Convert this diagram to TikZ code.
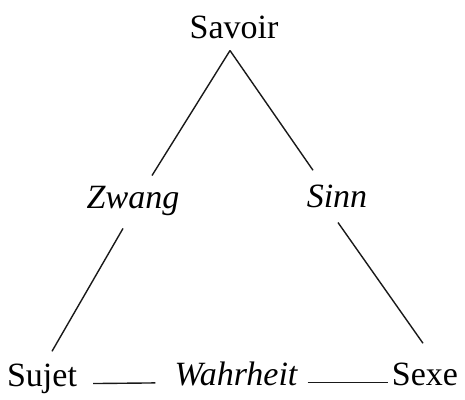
\documentclass[tikz,border=0pt]{standalone}
\usepackage{fontspec}
\setmainfont{Liberation Serif}
\usetikzlibrary{positioning,calc}

\begin{document}
\begin{tikzpicture}[
  x=1pt,y=-1pt,
  font=\fontsize{34}{40}\selectfont,
  term/.style={inner sep=0pt,anchor=base},
  role/.style={term,font=\fontsize{34}{40}\selectfont\itshape},
  edge/.style={black!90,line width=1.4pt}]
\useasboundingbox (0,0) rectangle (465,399);
% corners
\node[term] (savoir) at (234,38) {Savoir};
\node[term] (sujet) at (42,386) {Sujet};
\node[term] (sexe) at (425,385) {Sexe};
% names on the sides
\node[role] (zwang) at (133,208) {Zwang};
\node[role] (sinn) at (337,207) {Sinn};
\node[role] (wahr) at (236,385) {Wahrheit};
% left and right sides
\coordinate (apex) at ([shift={(-4pt,-12pt)}]savoir.south);
\draw[edge] (apex) -- ([shift={(19pt,10pt)}]zwang.north);
\draw[edge] ([shift={(-10pt,-13pt)}]zwang.south) -- ([shift={(10pt,12pt)}]sujet.north);
\draw[edge] (apex) -- ([shift={(-24pt,14pt)}]sinn.north);
\draw[edge] ([shift={(1pt,-15pt)}]sinn.south) -- ([shift={(-2pt,19pt)}]sexe.north);
% base
\draw[edge,shorten <=16pt,shorten >=19pt] (sujet.mid east) -- (wahr.mid west);
\draw[edge,shorten <=10pt,shorten >=4pt] (wahr.mid east) -- (sexe.mid west);
\end{tikzpicture}
\end{document}
